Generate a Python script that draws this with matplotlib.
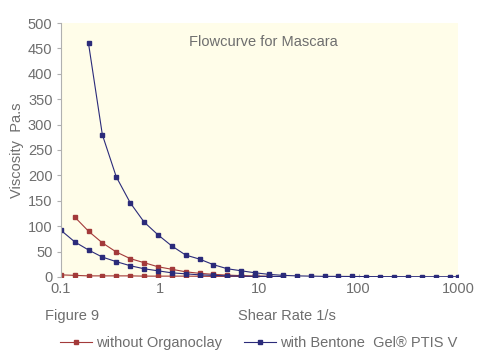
import matplotlib
matplotlib.use('Agg')
import matplotlib.pyplot as plt

plt.rcParams['font.family'] = ['Liberation Sans', 'DejaVu Sans']

# shear rate grid (1/s)
shearRate = [0.1, 0.138, 0.19, 0.262, 0.362, 0.5, 0.69, 0.95, 1.31, 1.81,
             2.5, 3.45, 4.76, 6.57, 9.07, 12.5, 17.3, 23.8, 32.9, 45.4,
             62.6, 86.4, 119, 165, 227, 314, 433, 597, 825, 1000]

# without organoclay (two runs)
redUpper = [118, 90, 67, 49, 36, 28, 20, 15, 10, 7, 5, 3.5, 2.5, 1.5, 1]
redLower = [4, 3, 2, 2, 2, 2, 1.5, 1.5, 1.5, 1.5, 1.2, 1, 1, 1, 1, 0.8]

# with Bentone Gel PTIS V (two runs)
blueUpper = [460, 280, 197, 146, 108, 83, 61, 43, 35, 24, 16, 12, 8, 5, 3,
             2, 1.5, 1, 1, 0.8, 0.6, 0.5, 0.5, 0.4, 0.4, 0.3, 0.3, 0.3]
blueLower = [92, 69, 53, 39, 30, 22, 16, 12, 8, 6, 4, 3, 2, 1.5, 1, 1, 0.8]

red = '#a33a3a'
blue = '#2b2b7a'
grey = '#6e6e6e'
fs = 10.5

fig = plt.figure(figsize=(4.79, 3.61), dpi=100)
ax = fig.add_axes([0.127, 0.233, 0.829, 0.703])
ax.set_facecolor('#fffde9')

lineStyle = dict(marker='s', markersize=3, linewidth=0.8)
ax.plot(shearRate[1:1 + len(redUpper)], redUpper, color=red, **lineStyle)
ax.plot(shearRate[:len(redLower)], redLower, color=red, **lineStyle)
ax.plot(shearRate[:len(blueLower)], blueLower, color=blue, **lineStyle)
ax.plot(shearRate[2:2 + len(blueUpper)], blueUpper, color=blue, **lineStyle)

ax.set_xscale('log')
ax.set_xlim(0.1, 1000)
ax.set_ylim(0, 500)
ax.set_yticks(range(0, 501, 50))
ax.set_xticks([0.1, 1, 10, 100, 1000])
ax.set_xticklabels(['0.1', '1', '10', '100', '1000'])
ax.minorticks_off()

for side in ['top', 'right', 'bottom']:
    ax.spines[side].set_visible(False)
ax.spines['left'].set_color('#b0b0b0')
ax.tick_params(axis='y', colors='#b0b0b0', labelcolor=grey, labelsize=fs,
               length=3, pad=3)
ax.tick_params(axis='x', colors='#b0b0b0', labelcolor=grey, labelsize=fs,
               length=2, direction='in', pad=4)

ax.set_ylabel('Viscosity  Pa.s', color=grey, fontsize=fs, labelpad=3)
ax.text(0.51, 0.925, 'Flowcurve for Mascara', transform=ax.transAxes,
        ha='center', va='center', color=grey, fontsize=fs)

fig.text(0.094, 0.125, 'Figure 9', color=grey, fontsize=fs, va='center')
fig.text(0.497, 0.125, 'Shear Rate 1/s', color=grey, fontsize=fs, va='center')

handles = [
    plt.Line2D([], [], color=red, **lineStyle),
    plt.Line2D([], [], color=blue, **lineStyle),
]
fig.legend(handles, ['without Organoclay', 'with Bentone  Gel\u00ae PTIS V'],
           loc='center', bbox_to_anchor=(0.54, 0.05), ncol=2, frameon=False,
           fontsize=fs, labelcolor=grey, handlelength=2.2, handletextpad=0.3,
           columnspacing=1.5)

fig.savefig('out.png', dpi=100, facecolor='white')
